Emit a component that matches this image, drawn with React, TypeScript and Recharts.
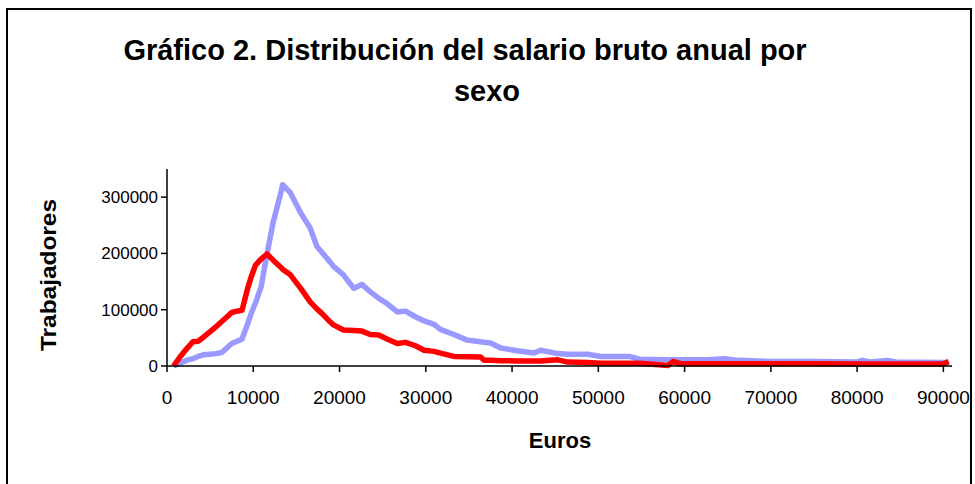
import React from 'react';
import { LineChart, Line, XAxis, YAxis, Label } from 'recharts';

const euros = [750, 1500, 2250, 3000, 3600, 4300, 5000, 5700, 6350, 7000, 7500, 8000, 8700, 9350, 9800, 10250, 10900, 11600, 12300, 13150, 13400, 14300, 15500, 16600, 17400, 17950, 18900, 19300, 20450, 21650, 22600, 23550, 24550, 25500, 26700, 27650, 28800, 29800, 30950, 31700, 33250, 34800, 36350, 36750, 37500, 38700, 40600, 42550, 43300, 45300, 46450, 48750, 50300, 53600, 54800, 58100, 58650, 59500, 62700, 64600, 66200, 70100, 75000, 80000, 80600, 81500, 83500, 84500, 90000, 90600];
const hombres = [0, 5000, 10000, 13000, 17000, 20000, 21000, 22000, 24000, 33000, 40000, 43000, 48000, 75000, 95000, 112000, 140000, 200000, 255000, 305000, 322000, 308000, 272000, 245000, 212000, 202000, 185000, 177000, 162000, 138000, 145000, 132000, 120000, 111000, 96000, 97500, 87500, 80000, 74000, 65000, 56000, 46000, 43000, 42000, 41000, 32000, 27000, 23000, 28000, 22000, 21000, 21000, 17000, 17000, 12000, 11000, 11000, 11000, 11000, 13000, 10000, 8000, 8000, 7000, 10000, 7000, 10000, 7000, 6000, 6000];
const mujeres = [0, 16000, 30000, 43000, 44000, 52000, 61000, 70000, 79000, 88000, 95000, 97000, 99000, 138000, 160000, 179000, 190000, 199000, 188000, 176000, 172000, 162000, 138000, 114000, 101000, 93500, 78500, 73000, 64000, 63000, 62000, 56000, 55000, 48000, 40000, 42000, 36000, 28000, 26000, 23000, 17000, 16500, 16000, 10000, 10000, 9500, 9000, 9000, 9000, 11000, 7000, 6000, 5000, 5000, 5000, 1000, 8000, 4000, 4000, 4000, 4000, 4000, 4000, 3500, 3500, 3500, 3500, 3500, 3500, 8000];
const xTicks = [0, 10000, 20000, 30000, 40000, 50000, 60000, 70000, 80000, 90000];
const yTicks = [0, 100000, 200000, 300000];
const titleLine1 = 'Gráfico 2. Distribución del salario bruto anual por';
const titleLine2 = 'sexo';
const xTitle = 'Euros';
const yTitle = 'Trabajadores';

const data = euros.map((e, i) => ({ euros: e, hombres: hombres[i], mujeres: mujeres[i] }));

const FONT = '"Liberation Sans", Arial, sans-serif';

export default function App() {
  return (
    <div style={{ position: 'absolute', left: 0, top: 0, width: 975, height: 484, overflow: 'hidden', background: '#fff', fontFamily: FONT }}>
      <div style={{ position: 'absolute', left: 0, top: 0 }}>
        <LineChart width={975} height={484} data={data} margin={{ top: 169, right: 23, bottom: 88, left: 107 }}>
          <XAxis
            dataKey="euros"
            type="number"
            domain={[0, 91000]}
            ticks={xTicks}
            interval={0}
            allowDataOverflow
            axisLine={{ stroke: '#000', strokeWidth: 1.5 }}
            tickLine={{ stroke: '#000', strokeWidth: 1.5 }}
            tickSize={6}
            tickMargin={19}
            height={30}
            tick={{ fill: '#000', fontSize: 19, fontFamily: FONT }}
          >
            <Label
              content={() => (
                <text x={560} y={448} textAnchor="middle" fontFamily={FONT} fontSize={22} fontWeight="bold" fill="#000">{xTitle}</text>
              )}
            />
          </XAxis>
          <YAxis
            type="number"
            domain={[0, 350000]}
            ticks={yTicks}
            interval={0}
            width={60}
            axisLine={{ stroke: '#000', strokeWidth: 1.5 }}
            tickLine={{ stroke: '#000', strokeWidth: 1.5 }}
            tickSize={6}
            tickMargin={3}
            tick={{ fill: '#000', fontSize: 17, fontFamily: FONT }}
          >
            <Label
              content={() => (
                <text x={56} y={275} transform="rotate(-90 56 275)" textAnchor="middle" fontFamily={FONT} fontSize={22} fontWeight="bold" fill="#000" textLength={152} lengthAdjust="spacingAndGlyphs">{yTitle}</text>
              )}
            />
          </YAxis>
          <Line type="linear" dataKey="hombres" stroke="#9999FF" strokeWidth={5.5} dot={false} isAnimationActive={false} strokeLinejoin="round" />
          <Line type="linear" dataKey="mujeres" stroke="#FF0000" strokeWidth={5.5} dot={false} isAnimationActive={false} strokeLinejoin="round" />
        </LineChart>
      </div>
      <svg width={975} height={484} style={{ position: 'absolute', left: 0, top: 0, pointerEvents: 'none' }}>
        <rect x={7} y={9} width={964} height={520} fill="none" stroke="#000" strokeWidth={2} />
        <text x={465} y={60} textAnchor="middle" fontFamily={FONT} fontSize={29} fontWeight="bold" fill="#000">{titleLine1}</text>
        <text x={487} y={101} textAnchor="middle" fontFamily={FONT} fontSize={29} fontWeight="bold" fill="#000">{titleLine2}</text>
      </svg>
    </div>
  );
}
